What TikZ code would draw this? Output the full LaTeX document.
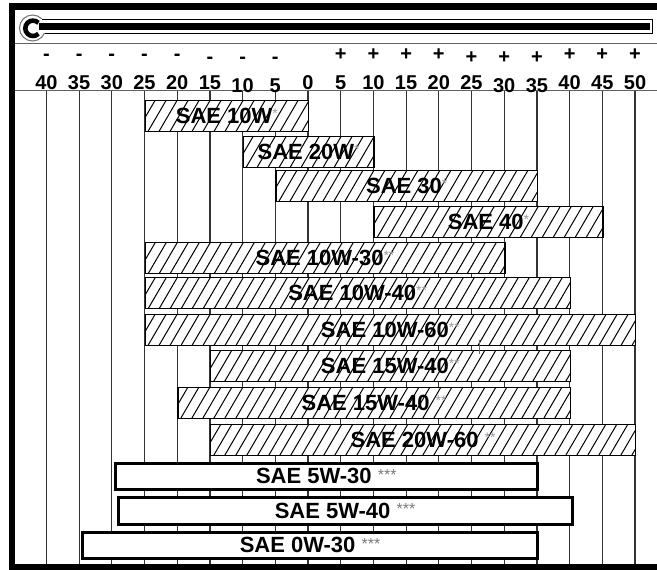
\documentclass[tikz,border=0pt]{standalone}
\usepackage{fontspec}
\setmainfont{Liberation Sans}
\definecolor{starc}{HTML}{9A9AA8}
\definecolor{starb}{HTML}{7A7A7A}
\newcommand{\hstar}[1]{{\color{starc}\mdseries\fontsize{14}{14}\selectfont\raisebox{5pt}{#1}}}
\newcommand{\bstar}[1]{{\color{starb}\mdseries\fontsize{16}{16}\selectfont\raisebox{3.5pt}{#1}}}
\begin{document}
\begin{tikzpicture}[x=1pt,y=-1pt,
  gridline/.style={draw=black!80, line width=1.2pt},
  sepline/.style={draw=black!62, line width=1pt},
  hatchline/.style={draw=black, line width=1pt},
  hbar/.style={draw=black, line width=1.3pt, fill=white, inner sep=0pt, anchor=north west,
    minimum height=31pt, font=\bfseries\fontsize{22}{22}\selectfont,
    path picture={\foreach \k in {-30,-19,...,520}{\draw[hatchline] ([xshift=\k pt]path picture bounding box.south west) -- ++(21pt,36pt);}}},
  wbar/.style={draw=black, line width=3pt, fill=white, inner sep=0pt, anchor=north west,
    font=\bfseries\fontsize{22}{22}\selectfont},
  numlbl/.style={anchor=base, inner sep=0pt, font=\bfseries\fontsize{20}{20}\selectfont},
  signlbl/.style={anchor=base, inner sep=0pt, font=\bfseries\fontsize{20}{20}\selectfont}]
\useasboundingbox (0,0) rectangle (657,570);
\begin{scope}
\clip (0,0) rectangle (657,570);
\fill[white] (0,0) rectangle (657,570);
% thermometer
\filldraw[fill=white, draw=black!55, line width=1pt] (32.5,28) circle (13pt);
\fill[white] (40,19) rectangle (652,33.3);
\draw[black, line width=0.9pt] (42,19) -- (652,19) -- (652,33.3) -- (44.5,33.3);
\fill[black] (39,23.3) rectangle (649.5,29.8);
\draw[black, line width=4.6pt] (33,28.3) ++(45:7.7pt) arc[start angle=45, end angle=315, radius=7.7pt];
% separators
\draw[sepline] (14,43.3) -- (657,43.3);
\draw[sepline] (14,90.8) -- (657,90.8);
% grid
\foreach \i in {0,...,18}{
  \draw[gridline] ({46.4+32.7*\i},91) -- ({46.4+32.7*\i},565);
}
% signs and numbers
\foreach \v/\t/\dy [count=\c] in {-40/40/0,-35/35/0,-30/30/0,-25/25/0,-20/20/0,-15/15/0,-10/10/3,-5/5/3,0/0/0,5/5/0,10/10/0,15/15/0,20/20/0,25/25/0,30/30/3,35/35/3,40/40/0,45/45/0,50/50/0}{
  \node[numlbl] (n\c) at ({308+6.54*\v},{89.3+\dy}) {\t};
}
\foreach \v/\dy [count=\c] in {-40/0,-35/0,-30/0,-25/0,-20/0,-15/2.5,-10/2.5,-5/2.5}{
  \node[signlbl] (m\c) at ({308+6.54*\v},{60.8+\dy}) {-};
}
\foreach \v/\dy [count=\c] in {5/0,10/0,15/0,20/0,25/2.3,30/2.3,35/2.3,40/0,45/0,50/0}{
  \node[signlbl] (p\c) at ({308+6.54*\v},{60.8+\dy}) {+};
}
% hatched bars
\node[hbar, minimum width=163.5pt] (b1) at (144.5,99.5) {SAE 10W\hstar{*}};
\node[hbar, minimum width=130.8pt] (b2) at (242.6,135.5) {SAE 20W\hstar{*}};
\node[hbar, minimum width=261.6pt] (b3) at (275.3,169.5) {SAE 30\hstar{*}};
\node[hbar, minimum width=228.9pt] (b4) at (373.4,206) {SAE 40\hstar{*}};
\node[hbar, minimum width=359.7pt] (b5) at (144.5,242) {SAE 10W-30\hstar{**}};
\node[hbar, minimum width=425.1pt] (b6) at (144.5,277) {SAE 10W-40\hstar{**}};
\node[hbar, minimum width=490.5pt] (b7) at (144.5,313.5) {SAE 10W-60\hstar{**}};
\node[hbar, minimum width=359.7pt] (b8) at (209.9,350) {SAE 15W-40\hstar{**}};
\node[hbar, minimum width=392.4pt] (b9) at (177.2,386.5) {SAE 15W-40 \hstar{**}};
\node[hbar, minimum width=425.1pt] (b10) at (209.9,424) {SAE 20W-60 \hstar{**}};
% white bars
\node[wbar, minimum width=422.5pt, minimum height=26.5pt] (b11) at (113.5,461.5) {SAE 5W-30 \bstar{***}};
\node[wbar, minimum width=454pt, minimum height=27pt] (b12) at (116.5,495.5) {SAE 5W-40 \bstar{***}};
\node[wbar, minimum width=455pt, minimum height=26.5pt] (b13) at (81,530.5) {SAE 0W-30 \bstar{***}};
% small cursor mark
\draw[black!60, line width=0.8pt] (479,340) -- (479,354);
% outer frame
\draw[black, line width=6.5pt] (12.2,6.5) rectangle (700,567.6);
\end{scope}
\end{tikzpicture}
\end{document}
